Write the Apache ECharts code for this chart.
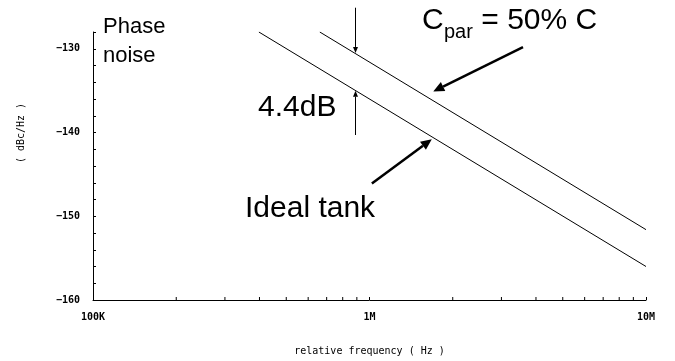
<!DOCTYPE html>
<html>
<head>
<meta charset="utf-8">
<script src="https://cdn.jsdelivr.net/npm/echarts@6/dist/echarts.min.js"></script>
<style>
  html, body { margin: 0; padding: 0; background: #fff; }
  #main { width: 675px; height: 361px; }
</style>
</head>
<body>
<div id="main"></div>
<script>
// phase noise curves: [offset Hz, dBc/Hz]
var idealTank = [[398000, -128], [10000000, -156]]
var cparTank = [[661000, -128], [10000000, -151.6]]

var xTickLabels = { 100000: '100K', 1000000: '1M', 10000000: '10M' }
var xMinorTicks = [2e5, 3e5, 4e5, 5e5, 6e5, 7e5, 8e5, 9e5, 2e6, 3e6, 4e6, 5e6, 6e6, 7e6, 8e6, 9e6]
var yLabelStep = 10

// annotation arrows, [from, to] in data coordinates
var gapArrowDown = [[890000, -125.1], [890000, -130.5]]
var gapArrowUp = [[890000, -140.3], [890000, -135.0]]
var cparPointer = [[3590000, -129.8], [1700000, -135.1]]
var idealPointer = [[1020000, -146.1], [1680000, -140.8]]

var monoFont = '"DejaVu Sans Mono", monospace'
var bigFont = '"Liberation Sans", Arial, sans-serif'

var chart = echarts.init(document.getElementById('main'))

var option = {
    animation: false,
    backgroundColor: '#fff',
    grid: { left: 93, right: 29, top: 32, bottom: 61 },
    xAxis: {
        type: 'log',
        logBase: 10,
        min: 100000,
        max: 10000000,
        name: 'relative frequency ( Hz )',
        nameLocation: 'middle',
        nameGap: 46,
        nameTextStyle: { color: '#000', fontFamily: monoFont, fontSize: 10 },
        axisLine: { lineStyle: { color: '#000', width: 1 } },
        axisTick: { inside: true, length: 3, lineStyle: { color: '#000' } },
        axisLabel: {
            color: '#000',
            fontFamily: monoFont,
            fontSize: 10,
            fontWeight: 'bold',
            margin: 12,
            formatter: function (v) { return xTickLabels[Math.round(v)] || '' }
        },
        splitLine: { show: false }
    },
    yAxis: {
        type: 'value',
        min: -160,
        max: -128,
        interval: 2,
        axisLine: { show: true, lineStyle: { color: '#000', width: 1 } },
        axisTick: { inside: true, length: 3, lineStyle: { color: '#000' } },
        axisLabel: {
            color: '#000',
            fontFamily: monoFont,
            fontSize: 10,
            fontWeight: 'bold',
            margin: 13,
            formatter: function (v) {
                return v % yLabelStep === 0 ? '\u2212' + Math.abs(v) : ''
            }
        },
        splitLine: { show: false }
    },
    series: [
        {
            name: 'Ideal tank',
            type: 'line',
            data: idealTank,
            symbol: 'none',
            silent: true,
            lineStyle: { color: '#000', width: 1 }
        },
        {
            name: 'Cpar = 50% C',
            type: 'line',
            data: cparTank,
            symbol: 'none',
            silent: true,
            lineStyle: { color: '#000', width: 1 }
        }
    ]
}

chart.setOption(option, true)

function arrow(seg, lw, hl, hw) {
    var p0 = chart.convertToPixel({ gridIndex: 0 }, seg[0])
    var p1 = chart.convertToPixel({ gridIndex: 0 }, seg[1])
    var dx = p1[0] - p0[0], dy = p1[1] - p0[1]
    var len = Math.sqrt(dx * dx + dy * dy)
    var ux = dx / len, uy = dy / len
    var bx = p1[0] - ux * hl, by = p1[1] - uy * hl
    return [
        { type: 'line', silent: true, shape: { x1: p0[0], y1: p0[1], x2: bx, y2: by },
          style: { stroke: '#000', lineWidth: lw } },
        { type: 'polygon', silent: true,
          shape: { points: [p1, [bx - uy * hw, by + ux * hw], [bx + uy * hw, by - ux * hw]] },
          style: { fill: '#000' } }
    ]
}

var graphics = []

// log minor ticks on the x axis
var axisY = chart.convertToPixel({ yAxisIndex: 0 }, -160)
xMinorTicks.forEach(function (f) {
    var x = chart.convertToPixel({ xAxisIndex: 0 }, f)
    graphics.push({ type: 'line', silent: true, shape: { x1: x, y1: axisY, x2: x, y2: axisY - 3 },
        style: { stroke: '#000', lineWidth: 1 } })
})

graphics = graphics.concat(arrow(gapArrowDown, 1, 6, 2.5))
graphics = graphics.concat(arrow(gapArrowUp, 1, 6, 2.5))
graphics = graphics.concat(arrow(cparPointer, 2.5, 11, 5))
graphics = graphics.concat(arrow(idealPointer, 2.5, 11, 5))

function label(text, x, y, size) {
    return { type: 'text', silent: true, x: x, y: y,
        style: { text: text, fill: '#000', font: size + 'px ' + bigFont, textVerticalAlign: 'middle' } }
}

graphics.push(label('Phase', 103, 27, 22))
graphics.push(label('noise', 103, 56, 22))
graphics.push(label('C', 422, 21, 30))
graphics.push(label('par', 444, 32, 20))
graphics.push(label(' = 50% C', 473, 21, 30))
graphics.push(label('4.4dB', 258, 108, 30))
graphics.push(label('Ideal tank', 245, 209, 30))

graphics.push({
    type: 'text', silent: true, x: 21, y: 133, rotation: Math.PI / 2,
    style: { text: '( dBc/Hz )', fill: '#000', font: '10px ' + monoFont,
        textAlign: 'center', textVerticalAlign: 'middle' }
})

chart.setOption({ graphic: graphics })
</script>
</body>
</html>
